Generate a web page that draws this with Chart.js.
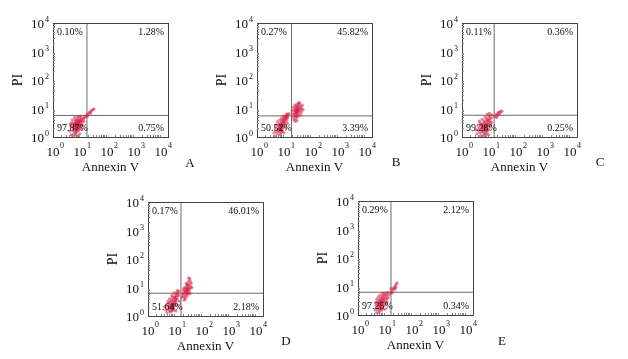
<!DOCTYPE html>
<html>
<head>
<meta charset="utf-8">
<script src="https://cdn.jsdelivr.net/npm/chart.js"></script>
<style>
  body { margin: 0; background: #fff; }
  #wrap { position: relative; width: 628px; height: 359px; }
  canvas { position: absolute; }
</style>
</head>
<body>
<div id="wrap"></div>
<script>
// axis ticks are powers of ten, x axis runs a little past 10^4
const tickExps = [0, 1, 2, 3, 4];
const xMin = 1, xMax = 18000, yMin = 1, yMax = 10000;

const panelNames = ['A', 'B', 'C', 'D', 'E'];
// quadrant labels: upper-left, upper-right, lower-left, lower-right
const quadPct = [
  ['0.10%', '1.28%', '97.87%', '0.75%'],
  ['0.27%', '45.82%', '50.52%', '3.39%'],
  ['0.11%', '0.36%', '99.28%', '0.25%'],
  ['0.17%', '46.01%', '51.64%', '2.18%'],
  ['0.29%', '2.12%', '97.25%', '0.34%']
];
const gateX = [18, 19, 15.5, 16.6, 16.6];
const gateY = [5.7, 5.5, 5.8, 6.3, 6.3];

// events (Annexin V, PI)
const cellsA = [[6.2,2.1],[7.0,2.5],[7.8,2.9],[8.5,3.1],[6.8,1.8],[7.4,2.2],[8.1,2.4],[9.0,2.7],[9.6,3.3],[5.8,1.6],
  [6.5,2.8],[7.2,3.4],[8.8,3.8],[10.2,3.6],[11.0,4.2],[5.6,2.3],[6.0,1.3],[7.6,1.5],[8.3,1.9],[9.3,2.2],
  [10.5,2.9],[12.0,3.3],[6.6,3.9],[7.9,4.5],[9.8,4.9],[5.5,1.9],[6.9,1.4],[8.0,3.6],[8.7,2.3],[7.3,2.9],
  [6.4,2.5],[9.1,1.7],[10.8,2.5],[11.5,3.9],[7.7,2.0],[8.4,2.6],[6.1,3.1],[7.1,1.2],[9.4,4.1],[12.8,4.6],
  [5.9,2.7],[8.9,3.2],[7.5,3.8],[10.0,2.0],[6.7,2.2],
  [4.2,1.6],[4.6,2.4],[5.0,3.2],[4.8,1.2],[5.3,1.1],[8.6,1.1],[9.9,1.3],[11.8,1.9],[12.5,2.6],[13.8,3.6],
  [5.2,4.0],[6.3,4.8],[8.2,5.3],[10.6,5.4],[4.4,2.9],[7.0,3.0],[7.6,2.6],[8.2,2.1],[6.9,2.0],[7.4,1.7],
  [13.5,4.4],[15,5],[16.5,5.2],[18,6],[20,6.5],[22,7.2],[24,7.8],[27,8.5],[30,9.2],[19,5.4],[25,6.8],[33,9.6]];
const cellsB = [[6.5,1.5],[7.0,1.8],[7.5,2.1],[8.0,2.3],[7.2,2.6],[6.8,2.0],[8.4,1.9],[7.8,1.4],[6.2,1.9],[5.8,1.3],
  [8.8,2.7],[9.3,3.0],[9.8,3.4],[10.5,3.8],[11.2,4.3],[12.0,4.8],[13.0,5.3],[14.0,6.0],[15.5,6.6],[9.0,2.2],
  [6.0,2.5],[5.2,1.6],[7.6,3.0],[8.3,3.5],[9.5,4.2],[10.8,5.0],[11.8,5.8],[12.8,6.5],[10.1,2.6],[11.0,3.2],
  [12.5,3.9],[8.6,1.6],[7.3,1.2],[6.6,2.9],[4.8,2.0],[9.1,3.7],[10.3,4.6],[13.6,4.6],[7.9,2.6],[8.1,1.7],
  [6.9,2.3],[11.5,5.3],
  [4.3,1.4],[5.0,2.6],[5.6,3.4],[6.8,3.9],[8.0,4.4],[9.2,5.4],[10.0,1.4],[11.6,2.1],[13.2,3.0],[4.6,1.1],
  [7.1,2.1],[7.7,1.8],[8.3,2.5],[6.4,1.7],
  [22,5],[24,6],[26,7],[28,8],[30,9],[32,10],[27,5.5],[29,6.5],[31,7.5],[33,8.5],
  [35,9.5],[25,8],[27,9.5],[30,11],[33,12.5],[36,14],[23,4],[26,4.5],[29,5],[32,6],
  [35,7],[38,8],[21,6.5],[24,9],[28,12],[31,14],[34,16],[37,11],[40,9.5],[26,3.5],
  [30,3.8],[33,5.2],[28,6.8],[30,7.8],[32,8.8],[27,10.5],
  [42,12],[45,10],[48,13],[44,7.5],[50,9],[39,15.5],[20,8.5],[22,11],[25,13.5],[41,6]];
const cellsC = [[5.5,1.5],[6.2,1.8],[7.0,2.0],[7.6,2.3],[6.6,1.3],[5.9,2.2],[7.3,1.6],[8.1,2.0],[8.6,2.6],[6.9,2.7],
  [5.2,1.9],[4.6,1.4],[4.0,1.7],[6.4,2.4],[7.8,2.9],[9.2,3.2],[9.9,3.8],[10.6,4.4],[8.4,3.6],[7.1,3.3],
  [6.0,2.9],[5.0,2.5],[3.6,1.3],[4.3,2.1],[8.9,1.7],[9.5,2.4],[10.4,2.9],[11.3,3.5],[12.2,4.6],[11.0,5.5],
  [9.7,5.1],[8.0,4.4],[6.8,1.1],[5.7,1.1],[7.5,1.3],[8.3,1.4],[6.5,3.6],[9.0,4.0],[12.8,6.0],[10.2,6.8],
  [7.7,2.5],[6.3,2.1],[5.4,2.7],[4.8,3.1],[10.0,1.9],
  [3.3,1.8],[3.9,2.6],[4.4,3.6],[5.6,4.2],[7.2,5.0],[8.7,6.2],[11.6,2.5],[12.5,3.2],[9.6,1.2],[4.9,1.1],
  [6.6,1.9],[7.1,2.3],[6.0,1.6],[7.9,1.8],
  [16,5.2],[18,5.9],[20,6.4],[22,7.0],[24,7.5],[27,8.0],[21,5.6],[25,6.5],[30,7.9],[19,4.8]];
const cellsD = [[7.0,2.0],[7.5,2.3],[8.0,2.5],[8.5,2.2],[7.2,1.7],[6.5,1.9],[8.8,1.8],[7.8,2.9],[6.8,2.6],[9.2,2.8],
  [9.8,3.3],[10.5,3.9],[11.3,4.6],[12.2,5.4],[13.0,6.3],[14.0,7.4],[8.3,3.4],[9.0,4.0],[9.7,4.8],[10.6,5.8],
  [11.5,6.9],[12.5,8.0],[6.0,2.2],[5.4,1.8],[6.2,1.5],[7.6,1.5],[9.5,2.3],[10.3,2.9],[11.0,3.4],[12.0,4.0],
  [7.3,3.6],[8.1,4.5],[6.6,3.1],[5.8,2.8],[9.1,1.6],[8.4,1.9],[7.1,2.4],[10.0,4.4],[13.5,5.2],[4.6,1.6],
  [4.1,2.1],[5.0,2.4],[5.5,3.3],[6.3,4.0],[7.6,5.2],[9.0,6.4],[10.8,1.5],[12.6,2.4],[14.5,3.3],[5.1,1.3],
  [7.3,2.1],[7.9,1.9],[8.6,2.6],[6.9,1.4],
  [20,5],[22,6],[24,7],[26,8],[28,9],[30,10.5],[23,4.5],[25,5.5],[27,6.5],[29,7.5],
  [31,8.5],[33,9.5],[21,7],[23,8.5],[25,10],[27,12],[29,14],[32,17],[35,20],[24,4],
  [28,5],[31,6.2],[34,7.2],[36,9],[19,6],[22,10],[26,14],[30,12],[33,12.5],[38,11],
  [25,7.2],[27,8.6],[29,6.1],[22,3.6],[32,22],
  [40,14],[42,10],[37,16],[20,8.5],[18,4.5],[36,6]];
const cellsE = [[6.0,2.0],[6.6,2.3],[7.2,2.6],[7.8,2.9],[6.3,1.7],[7.0,1.9],[7.6,2.2],[8.3,2.5],[5.5,2.3],[5.9,2.8],
  [6.8,3.2],[7.5,3.5],[8.6,3.3],[9.2,3.8],[9.9,4.3],[10.6,4.9],[11.5,5.4],[12.4,6.1],[5.1,1.8],[4.7,2.2],
  [5.4,1.5],[6.5,1.4],[8.0,1.7],[8.9,2.1],[9.6,2.8],[10.3,3.1],[11.2,3.7],[6.1,3.4],[6.9,4.0],[7.9,4.5],
  [8.8,5.1],[9.7,5.9],[5.2,2.9],[7.3,1.5],[8.5,3.9],[13.2,4.6],[6.4,2.6],[7.7,3.1],[10.8,2.4],[5.0,3.6],
  [4.3,1.5],[4.5,2.7],[5.6,4.3],[6.6,5.0],[8.1,5.8],[9.9,1.6],[11.8,2.9],[4.9,1.2],[6.0,1.2],[12.6,3.9],
  [6.8,2.1],[7.4,2.4],[7.0,1.7],[6.2,2.5],
  [15,5.5],[16.5,6.3],[18,7.2],[20,8.2],[22,9.3],[24,10.5],[26,12],[28,13.5],[19,6.0],[23,8],[25,9.2],[17,8.6]];
const cells = [cellsA, cellsB, cellsC, cellsD, cellsE];

// canvas placement on the page and letter offsets
const spots = [
  { left: 0,   top: 1,   letterDx: 22, letterDy: 27 },
  { left: 204, top: 1,   letterDx: 24, letterDy: 26 },
  { left: 409, top: 1,   letterDx: 23, letterDy: 26 },
  { left: 95,  top: 180, letterDx: 23, letterDy: 26 },
  { left: 305, top: 179, letterDx: 29, letterDy: 27 }
];
const W = 210, H = 178;
const pad = { left: 53, top: 22, right: 42, bottom: 42 };
const serif = '"Liberation Serif", "Times New Roman", serif';

const facsDecor = {
  id: 'facsDecor',
  afterDraw(chart, args, opts) {
    const { ctx, chartArea: a, scales: { x, y } } = chart;
    ctx.save();
    // frame
    ctx.strokeStyle = '#444';
    ctx.lineWidth = 1;
    ctx.strokeRect(Math.round(a.left) + 0.5, Math.round(a.top) + 0.5,
      Math.round(a.right - a.left), Math.round(a.bottom - a.top));

    // small minor ticks on bottom and left
    ctx.strokeStyle = '#888';
    ctx.beginPath();
    tickExps.forEach(e => {
      for (let m = 2; m < 10; m++) {
        const v = m * Math.pow(10, e);
        if (v < xMax) {
          const px = Math.round(x.getPixelForValue(v)) + 0.5;
          ctx.moveTo(px, a.bottom); ctx.lineTo(px, a.bottom - 2);
        }
        if (v < yMax) {
          const py = Math.round(y.getPixelForValue(v)) + 0.5;
          ctx.moveTo(a.left, py); ctx.lineTo(a.left + 2, py);
        }
      }
    });
    ctx.stroke();

    // tick labels 10^n
    ctx.fillStyle = '#111';
    tickExps.forEach(e => {
      const v = Math.pow(10, e);
      const px = x.getPixelForValue(v);
      ctx.font = '13px ' + serif;
      ctx.textAlign = 'center';
      ctx.textBaseline = 'alphabetic';
      ctx.fillText('10', px, a.bottom + 19);
      ctx.font = '8px ' + serif;
      ctx.textAlign = 'left';
      ctx.fillText(String(e), px + 7, a.bottom + 11);

      const py = y.getPixelForValue(v);
      ctx.font = '8px ' + serif;
      ctx.textAlign = 'right';
      ctx.fillText(String(e), a.left - 4, py - 1);
      ctx.font = '13px ' + serif;
      ctx.fillText('10', a.left - 9, py + 5);
    });

    // quadrant percentages
    const p = opts.pct;
    ctx.font = '10px ' + serif;
    ctx.textBaseline = 'middle';
    ctx.textAlign = 'left';
    ctx.fillText(p[0], a.left + 4, a.top + 9);
    ctx.fillText(p[2], a.left + 4, a.bottom - 9);
    ctx.textAlign = 'right';
    ctx.fillText(p[1], a.right - 4, a.top + 9);
    ctx.fillText(p[3], a.right - 4, a.bottom - 9);

    // axis titles and panel letter
    const cx = (a.left + a.right) / 2, cy = (a.top + a.bottom) / 2;
    ctx.font = '13px ' + serif;
    ctx.textAlign = 'center';
    ctx.fillText('Annexin V', cx, a.bottom + 31);
    ctx.fillText(opts.letter, a.right + opts.letterDx, a.bottom + opts.letterDy);
    ctx.save();
    ctx.translate(a.left - 35, cy);
    ctx.rotate(-Math.PI / 2);
    ctx.font = '14px ' + serif;
    ctx.fillText('PI', 0, 0);
    ctx.restore();
    ctx.restore();
  }
};

const wrap = document.getElementById('wrap');
panelNames.forEach((name, i) => {
  const cv = document.createElement('canvas');
  cv.width = W; cv.height = H;
  cv.style.left = spots[i].left + 'px';
  cv.style.top = spots[i].top + 'px';
  wrap.appendChild(cv);

  new Chart(cv, {
    type: 'scatter',
    data: {
      datasets: [
        {
          data: cells[i].map(c => ({ x: c[0], y: c[1] })),
          pointRadius: 1.6,
          pointBorderWidth: 0,
          backgroundColor: 'rgba(215, 30, 70, 0.55)'
        },
        {
          data: [{ x: gateX[i], y: yMin }, { x: gateX[i], y: yMax }],
          showLine: true, pointRadius: 0,
          borderColor: '#6a6a6a', borderWidth: 1
        },
        {
          data: [{ x: xMin, y: gateY[i] }, { x: xMax, y: gateY[i] }],
          showLine: true, pointRadius: 0,
          borderColor: '#6a6a6a', borderWidth: 1
        }
      ]
    },
    options: {
      responsive: false,
      animation: false,
      devicePixelRatio: 1,
      layout: { padding: pad },
      scales: {
        x: { type: 'logarithmic', min: xMin, max: xMax, display: false },
        y: { type: 'logarithmic', min: yMin, max: yMax, display: false }
      },
      plugins: {
        legend: { display: false },
        tooltip: { enabled: false },
        facsDecor: { pct: quadPct[i], letter: name, letterDx: spots[i].letterDx, letterDy: spots[i].letterDy }
      }
    },
    plugins: [facsDecor]
  });
});
</script>
</body>
</html>
